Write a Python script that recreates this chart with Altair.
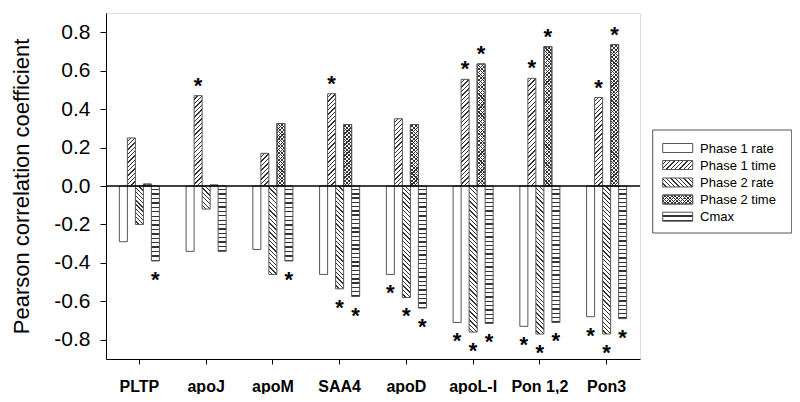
import altair as alt
import pandas as pd

# ---------------- data ----------------
genes = ["PLTP", "apoJ", "apoM", "SAA4", "apoD", "apoL-I", "Pon 1,2", "Pon3"]
series = ["Phase 1 rate", "Phase 1 time", "Phase 2 rate", "Phase 2 time", "Cmax"]

phase1_rate = [-0.29, -0.34, -0.33, -0.46, -0.46, -0.71, -0.73, -0.68]
phase1_time = [0.25, 0.47, 0.17, 0.48, 0.35, 0.555, 0.56, 0.46]
phase2_rate = [-0.20, -0.12, -0.46, -0.535, -0.58, -0.76, -0.77, -0.77]
phase2_time = [0.01, 0.005, 0.325, 0.32, 0.32, 0.635, 0.725, 0.735]
cmax = [-0.39, -0.34, -0.39, -0.575, -0.635, -0.715, -0.71, -0.69]

sig_phase1_rate = [0, 0, 0, 0, 1, 1, 1, 1]
sig_phase1_time = [0, 1, 0, 1, 0, 1, 1, 1]
sig_phase2_rate = [0, 0, 0, 1, 1, 1, 1, 1]
sig_phase2_time = [0, 0, 0, 0, 0, 1, 1, 1]
sig_cmax = [1, 0, 1, 1, 1, 1, 1, 1]

y_ticks = [-0.8, -0.6, -0.4, -0.2, 0.0, 0.2, 0.4, 0.6, 0.8]

values_by_series = [phase1_rate, phase1_time, phase2_rate, phase2_time, cmax]
sig_by_series = [sig_phase1_rate, sig_phase1_time, sig_phase2_rate, sig_phase2_time, sig_cmax]

rows = []
for si, s in enumerate(series):
    for gi, g in enumerate(genes):
        rows.append({"gene": g, "series": s,
                     "value": values_by_series[si][gi],
                     "sig": sig_by_series[si][gi]})
df = pd.DataFrame(rows)

# ---------------- layout / style ----------------
W, H = 534, 346
YMIN, YMAX = -0.9, 0.9
PX = H / (YMAX - YMIN)
PAD_IN, PAD_OUT = 0.4, 0.2
STEP = W / (len(genes) - PAD_IN + 2 * PAD_OUT)
BAR_W = STEP * (1 - PAD_IN) / len(series)

FONT = "Liberation Sans"
INK = "#333333"
EDGE = "#555555"
PAPER = "white"
CLEAR = "transparent"


def make_stops(n, ink_frac, paper):
    out = []
    for i in range(n):
        a = round(i / n, 5)
        b = round((i + 1 - ink_frac) / n, 5)
        c = round((i + 1) / n, 5)
        out += [alt.GradientStop(color=paper, offset=a),
                alt.GradientStop(color=paper, offset=b),
                alt.GradientStop(color=INK, offset=b),
                alt.GradientStop(color=INK, offset=c)]
    return out


def grad_horizontal(w, h, period=4.3, ink_frac=0.3, paper=PAPER):
    n = max(1, round(h / period))
    return alt.LinearGradient(gradient="linear", x1=0, y1=0, x2=0, y2=1,
                              stops=make_stops(n, ink_frac, paper))


def grad_diag(w, h, forward=True, period=4.4, ink_frac=0.3, paper=PAPER):
    h = max(h, 0.5)
    k = (w + h) / (w * w + h * h)
    dx, dy = w * k, h * k
    n = max(1, round((w + h) / period))
    st = make_stops(n, ink_frac, paper)
    if forward:
        return alt.LinearGradient(gradient="linear", x1=0, y1=0, x2=dx, y2=dy, stops=st)
    return alt.LinearGradient(gradient="linear", x1=0, y1=1, x2=dx, y2=1 - dy, stops=st)


def fills_for(series_name, w, h):
    """list of (fill, stroke?) layers for a rect of pixel size w x h"""
    if series_name == "Phase 1 rate":
        return [PAPER]
    if series_name == "Phase 1 time":
        return [grad_diag(w, h, forward=True)]
    if series_name == "Phase 2 rate":
        return [grad_diag(w, h, forward=False)]
    if series_name == "Phase 2 time":
        return [grad_diag(w, h, forward=True, period=3.6),
                grad_diag(w, h, forward=False, period=3.6, paper=CLEAR)]
    return [grad_horizontal(w, h)]


xscale = alt.Scale(domain=genes, paddingInner=PAD_IN, paddingOuter=PAD_OUT)
yscale = alt.Scale(domain=[YMIN, YMAX], nice=False, zero=False)
xaxis = alt.Axis(title=None, labelAngle=0, labelFont=FONT, labelFontSize=16,
                 labelFontWeight="bold", labelColor="black", labelPadding=14,
                 tickSize=5, tickColor="black", domainColor="black", grid=False)
yaxis = alt.Axis(title="Pearson correlation coefficient", values=y_ticks,
                 labelExpr="(datum.value < 0 ? '-' : '') + format(abs(datum.value), '.1f')",
                 labelFont=FONT, labelFontSize=21, labelColor="black", labelPadding=10,
                 titleFont=FONT, titleFontSize=22, titleFontWeight="normal",
                 titleColor="black", titlePadding=20,
                 tickSize=6, tickColor="black", domainColor="black", grid=False)

base = alt.Chart().encode(
    x=alt.X("gene:N", sort=genes, scale=xscale, axis=xaxis),
    xOffset=alt.XOffset("series:N", sort=series,
                        scale=alt.Scale(domain=series, paddingInner=0, paddingOuter=0)),
    y=alt.Y("value:Q", scale=yscale, axis=yaxis),
)

layers = []
for si, s in enumerate(series):
    for gi, g in enumerate(genes):
        v = values_by_series[si][gi]
        h = abs(v) * PX
        flt = (alt.datum.gene == g) & (alt.datum.series == s)
        for fill in fills_for(s, BAR_W, h):
            layers.append(base.transform_filter(flt).mark_bar(
                fill=fill, stroke=EDGE, strokeWidth=1))

# zero line
layers.append(alt.Chart(pd.DataFrame({"value": [0.0]})).mark_rule(
    color="black", strokeWidth=1.5).encode(
    y=alt.Y("value:Q", scale=yscale, axis=yaxis)))

# significance stars
star_style = dict(text="*", font=FONT, fontSize=22, fontWeight="bold",
                  color="black", align="center", baseline="alphabetic")
layers.append(base.transform_filter("datum.sig == 1 && datum.value > 0")
              .mark_text(dy=-3, **star_style))
layers.append(base.transform_filter("datum.sig == 1 && datum.value < 0")
              .mark_text(dy=26, **star_style))

# legend (drawn with marks so the hatch swatches match the bars)
LEG_X0, LEG_X1, LEG_Y0, LEG_Y1 = 546.7, 685.7, 117, 220
SW_X0, SW_X1, SW_H = 556.7, 586.7, 9
TXT_X = 594
ROW_Y = [135, 152, 169.5, 186.5, 203.7]

layers.append(alt.Chart(pd.DataFrame({"k": [0]})).mark_rect(
    fill="white", stroke="#555555", strokeWidth=1).encode(
    x=alt.value(LEG_X0), x2=alt.value(LEG_X1), y=alt.value(LEG_Y0), y2=alt.value(LEG_Y1)))

for si, s in enumerate(series):
    ld = pd.DataFrame({"label": [s]})
    cy = ROW_Y[si]
    for fill in fills_for(s, SW_X1 - SW_X0, SW_H):
        layers.append(alt.Chart(ld).mark_rect(fill=fill, stroke=EDGE, strokeWidth=1).encode(
            x=alt.value(SW_X0), x2=alt.value(SW_X1),
            y=alt.value(cy - SW_H / 2), y2=alt.value(cy + SW_H / 2)))
    layers.append(alt.Chart(ld).mark_text(
        font=FONT, fontSize=13, color="black", align="left", baseline="middle").encode(
        x=alt.value(TXT_X), y=alt.value(cy + 0.5), text="label:N"))

chart = alt.layer(*layers, data=df).properties(
    width=W, height=H,
    autosize=alt.AutoSizeParams(type="none"),
    padding={"left": 98, "top": 5, "right": 152, "bottom": 35},
).configure_view(stroke=None).configure(font=FONT)

chart.save("out.html", embed_options={"renderer": "svg", "actions": False})
